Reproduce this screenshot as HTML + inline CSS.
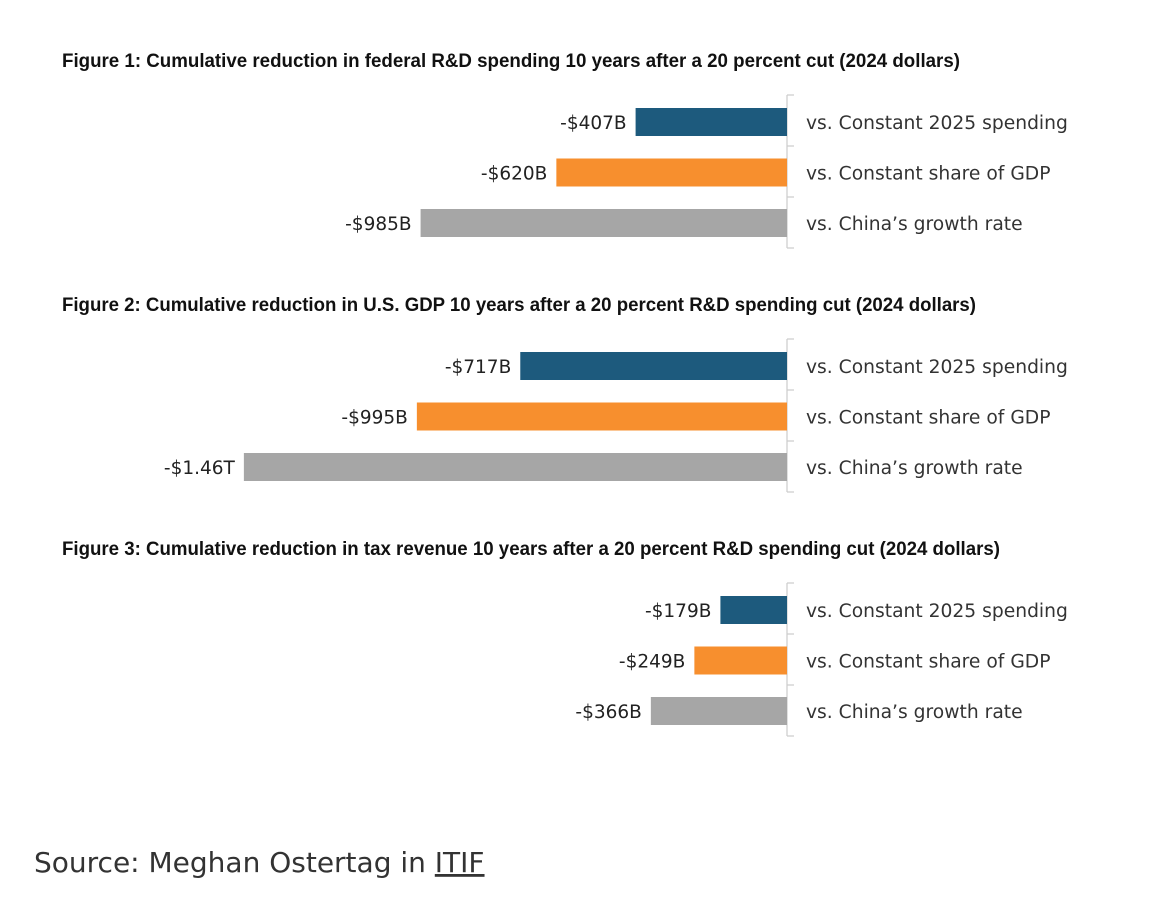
<!DOCTYPE html>
<html><head><meta charset="utf-8"><style>
html,body{margin:0;padding:0;background:#fff;}
svg{display:block;}
</style></head><body>
<svg id="chart" width="1176" height="914" xmlns="http://www.w3.org/2000/svg">
<text x="34" y="872" font-family="'DejaVu Sans','Liberation Sans',sans-serif" font-size="28" fill="#333">Source: Meghan Ostertag in <tspan text-decoration="underline">ITIF</tspan></text>
</svg>
<script>
const titles = [
 "Figure 1: Cumulative reduction in federal R&D spending 10 years after a 20 percent cut (2024 dollars)",
 "Figure 2: Cumulative reduction in U.S. GDP 10 years after a 20 percent R&D spending cut (2024 dollars)",
 "Figure 3: Cumulative reduction in tax revenue 10 years after a 20 percent R&D spending cut (2024 dollars)"
];
const categories = ["vs. Constant 2025 spending","vs. Constant share of GDP","vs. China\u2019s growth rate"];
const fig1Values = [407, 620, 985];
const fig2Values = [717, 995, 1460];
const fig3Values = [179, 249, 366];
const fig1Labels = ["-$407B","-$620B","-$985B"];
const fig2Labels = ["-$717B","-$995B","-$1.46T"];
const fig3Labels = ["-$179B","-$249B","-$366B"];
const titleWidths=[898,914,938];
const colors=["#1d5a7d","#f78f2e","#a6a6a6"];
const svg=document.getElementById('chart');
const NS="http://www.w3.org/2000/svg";
const axisX=787, scale=0.372;
function x(v){return axisX - v*scale;}
function mk(tag,attrs){const e=document.createElementNS(NS,tag);for(const k in attrs)e.setAttribute(k,attrs[k]);svg.appendChild(e);return e;}
const figs=[[fig1Values,fig1Labels,95],[fig2Values,fig2Labels,339],[fig3Values,fig3Labels,583]];
figs.forEach((f,fi)=>{
 const [vals,labs,top]=f;
 const t=mk('text',{x:62,y:top-28,'font-family':"'Liberation Sans Narrow','Liberation Sans',sans-serif",'font-size':19,'font-weight':'bold',fill:'#111',textLength:titleWidths[fi],lengthAdjust:'spacingAndGlyphs'});
 t.textContent=titles[fi];
 
 
 const ax=mk('path',{d:`M${axisX} ${top}V${top+153}`,stroke:'#ccc','stroke-width':1.2,fill:'none'});
 
 
 for(let k=0;k<4;k++){const tk=mk('line',{x1:axisX,x2:axisX+7,y1:top+k*51,y2:top+k*51,stroke:'#ccc','stroke-width':1.2});
  
  }
 vals.forEach((v,i)=>{
  const y=top+13+i*50.5;
  const r=mk('rect',{x:x(v),y:y,width:axisX-x(v),height:28,fill:colors[i]});
  
  
  const l=mk('text',{x:x(v)-9,y:y+21,'text-anchor':'end','font-family':"'DejaVu Sans','Liberation Sans',sans-serif",'font-size':18.5,fill:'#222'});
  l.textContent=labs[i];
  
  
  const c=mk('text',{x:806,y:y+21,'font-family':"'DejaVu Sans','Liberation Sans',sans-serif",'font-size':18.7,fill:'#333'});
  c.textContent=categories[i];
  
  
 });
});
</script>
</body></html>
